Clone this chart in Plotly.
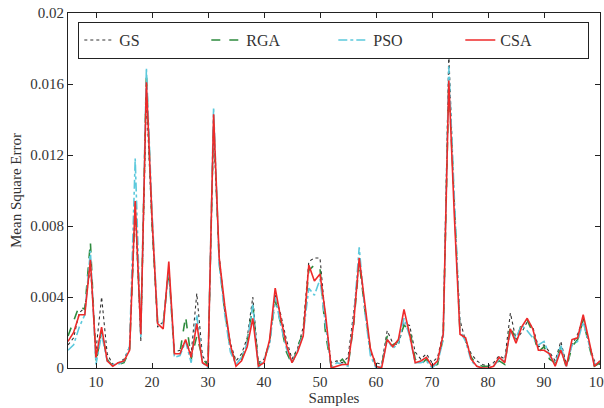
import plotly.graph_objects as go

samples = list(range(5, 101))

gs = [0.0013, 0.0017, 0.0031, 0.0034, 0.0057, 0.0010, 0.0040, 0.0008, 0.0002, 0.0003,
      0.0005, 0.0012, 0.0090, 0.0015, 0.0153, 0.0080, 0.0023, 0.0026, 0.0056, 0.0009,
      0.0010, 0.0015, 0.0008, 0.0042, 0.0007, 0.0002, 0.0133, 0.0063, 0.0032, 0.0014,
      0.0004, 0.0008, 0.0017, 0.0040, 0.0003, 0.0005, 0.0014, 0.0041, 0.0030, 0.0016,
      0.0005, 0.0011, 0.0023, 0.0060, 0.0062, 0.0062, 0.0027, 0.0003, 0.0004, 0.0003,
      0.0006, 0.0031, 0.0060, 0.0033, 0.0009, 0.0003, 0.0002, 0.0021, 0.0014, 0.0013,
      0.0025, 0.0024, 0.0009, 0.0005, 0.0008, 0.0003, 0.0006, 0.0020, 0.0178, 0.0090,
      0.0027, 0.0015, 0.0008, 0.0004, 0.0002, 0.0001, 0.0003, 0.0007, 0.0005, 0.0031,
      0.0016, 0.0020, 0.0026, 0.0023, 0.0012, 0.0013, 0.0009, 0.0004, 0.0015, 0.0002,
      0.0013, 0.0019, 0.0028, 0.0014, 0.0004, 0.0002]

rga = [0.0018, 0.0026, 0.0035, 0.0033, 0.0071, 0.0003, 0.0021, 0.0005, 0.0001, 0.0002,
       0.0003, 0.0010, 0.0093, 0.0020, 0.0166, 0.0082, 0.0026, 0.0025, 0.0055, 0.0008,
       0.0009, 0.0029, 0.0005, 0.0018, 0.0006, 0.0001, 0.0140, 0.0060, 0.0032, 0.0011,
       0.0003, 0.0005, 0.0015, 0.0035, 0.0002, 0.0004, 0.0015, 0.0038, 0.0025, 0.0009,
       0.0002, 0.0012, 0.0020, 0.0055, 0.0058, 0.0056, 0.0019, 0.0001, 0.0002, 0.0005,
       0.0001, 0.0024, 0.0060, 0.0033, 0.0010, 0.0001, 0.0001, 0.0018, 0.0013, 0.0015,
       0.0024, 0.0022, 0.0005, 0.0002, 0.0005, 0.0001, 0.0002, 0.0017, 0.0161, 0.0092,
       0.0020, 0.0016, 0.0006, 0.0002, 0.0001, 0.0001, 0.0002, 0.0004, 0.0002, 0.0024,
       0.0015, 0.0025, 0.0027, 0.0020, 0.0009, 0.0012, 0.0005, 0.0003, 0.0012, 0.0000,
       0.0012, 0.0016, 0.0027, 0.0013, 0.0001, 0.0003]

pso = [0.0010, 0.0013, 0.0023, 0.0030, 0.0066, 0.0002, 0.0019, 0.0004, 0.0002, 0.0002,
       0.0004, 0.0012, 0.0118, 0.0017, 0.0169, 0.0088, 0.0026, 0.0025, 0.0055, 0.0006,
       0.0007, 0.0015, 0.0003, 0.0030, 0.0003, 0.0000, 0.0147, 0.0058, 0.0030, 0.0009,
       0.0002, 0.0006, 0.0014, 0.0036, 0.0000, 0.0005, 0.0013, 0.0040, 0.0024, 0.0011,
       0.0003, 0.0010, 0.0019, 0.0045, 0.0041, 0.0050, 0.0024, 0.0000, 0.0003, 0.0002,
       0.0001, 0.0027, 0.0068, 0.0032, 0.0007, 0.0000, 0.0001, 0.0016, 0.0011, 0.0014,
       0.0028, 0.0018, 0.0003, 0.0003, 0.0004, 0.0000, 0.0003, 0.0016, 0.0170, 0.0095,
       0.0021, 0.0015, 0.0004, 0.0001, 0.0000, 0.0000, 0.0001, 0.0005, 0.0004, 0.0020,
       0.0017, 0.0024, 0.0021, 0.0017, 0.0013, 0.0015, 0.0007, 0.0002, 0.0013, 0.0001,
       0.0013, 0.0015, 0.0026, 0.0014, 0.0002, 0.0004]

csa = [0.0015, 0.0020, 0.0030, 0.0030, 0.0061, 0.0006, 0.0023, 0.0004, 0.0001, 0.0003,
       0.0004, 0.0010, 0.0094, 0.0019, 0.0161, 0.0085, 0.0025, 0.0022, 0.0060, 0.0008,
       0.0008, 0.0016, 0.0006, 0.0025, 0.0003, 0.0001, 0.0143, 0.0062, 0.0035, 0.0013,
       0.0001, 0.0004, 0.0012, 0.0028, 0.0001, 0.0003, 0.0016, 0.0045, 0.0028, 0.0013,
       0.0003, 0.0009, 0.0018, 0.0058, 0.0049, 0.0053, 0.0030, 0.0000, 0.0001, 0.0002,
       0.0002, 0.0025, 0.0062, 0.0036, 0.0011, 0.0001, 0.0000, 0.0016, 0.0012, 0.0016,
       0.0033, 0.0019, 0.0003, 0.0004, 0.0006, 0.0001, 0.0004, 0.0019, 0.0162, 0.0085,
       0.0019, 0.0017, 0.0005, 0.0001, 0.0000, 0.0000, 0.0001, 0.0006, 0.0003, 0.0022,
       0.0014, 0.0023, 0.0028, 0.0022, 0.0010, 0.0010, 0.0008, 0.0001, 0.0010, 0.0001,
       0.0016, 0.0017, 0.0030, 0.0016, 0.0001, 0.0004]

x_ticks = [10, 20, 30, 40, 50, 60, 70, 80, 90, 100]
y_ticks = [0, 0.004, 0.008, 0.012, 0.016, 0.02]
y_tick_labels = ["0", "0.004", "0.008", "0.012", "0.016", "0.02"]

FONT = "Liberation Serif"

fig = go.Figure()
fig.add_trace(go.Scatter(x=samples, y=gs, name="GS", mode="lines",
                         line=dict(color="#333333", width=1.1, dash="dot")))
fig.add_trace(go.Scatter(x=samples, y=rga, name="RGA", mode="lines",
                         line=dict(color="#2e8b3e", width=1.6, dash="dash")))
fig.add_trace(go.Scatter(x=samples, y=pso, name="PSO", mode="lines",
                         line=dict(color="#5cc9dc", width=1.6, dash="dashdot")))
fig.add_trace(go.Scatter(x=samples, y=csa, name="CSA", mode="lines",
                         line=dict(color="#ee2a2a", width=1.6)))

axis_common = dict(showline=True, linecolor="#222222", linewidth=1.2, mirror="ticks",
                   ticks="inside", ticklen=5, tickcolor="#222222", showgrid=False,
                   zeroline=False, automargin=False,
                   tickfont=dict(family=FONT, size=15, color="#333333"))

fig.update_xaxes(range=[5, 100], tickvals=x_ticks, ticklabeloverflow="allow",
                 title=dict(text="Samples", font=dict(family=FONT, size=15, color="#333333"),
                            standoff=2),
                 **axis_common)
fig.update_yaxes(range=[0, 0.02], tickvals=y_ticks, ticktext=y_tick_labels,
                 title=dict(text="Mean Square Error", font=dict(family=FONT, size=15, color="#333333"),
                            standoff=4),
                 **axis_common)

fig.update_layout(
    width=604, height=408,
    margin=dict(l=68, r=4, t=13, b=40, autoexpand=False),
    paper_bgcolor="white", plot_bgcolor="white",
    showlegend=True,
    legend=dict(orientation="h", x=0.019, y=0.975, xanchor="left", yanchor="top",
                bordercolor="#222222", borderwidth=1.2, bgcolor="white",
                font=dict(family=FONT, size=16, color="#333333"),
                entrywidth=82, traceorder="normal"),
)

fig.write_html("out.html")
